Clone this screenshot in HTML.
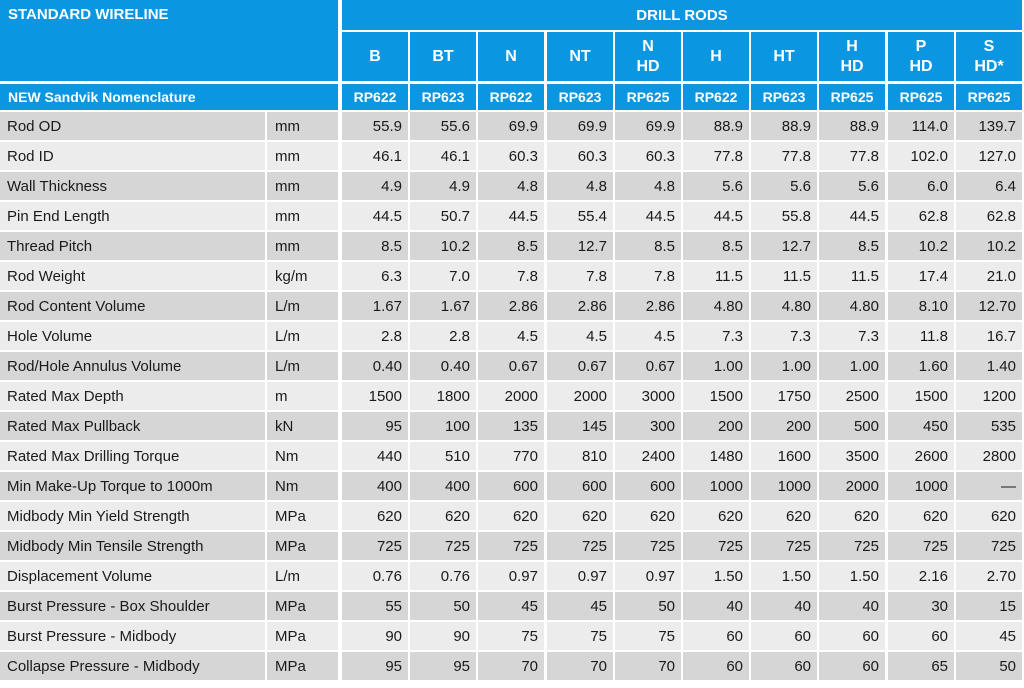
<!DOCTYPE html>
<html><head><meta charset="utf-8"><style>
body{margin:0;width:1024px;height:688px;background:#fff;overflow:hidden;font-family:"Liberation Sans",sans-serif;}
#t{position:relative;width:1024px;height:688px;}
.c{position:absolute;box-sizing:border-box;display:flex;align-items:center;font-size:15px;color:#1a1a1a;white-space:nowrap;}
.h{background:#0a96e0;color:#fff;font-weight:bold;justify-content:center;text-align:center;}
.n{justify-content:flex-end;padding-right:6px;}
</style></head><body>
<div id="t"></div>
<script>
const cols=["B","BT","N","NT","N<br>HD","H","HT","H<br>HD","P<br>HD","S<br>HD*"];
const codes=["RP622","RP623","RP622","RP623","RP625","RP622","RP623","RP625","RP625","RP625"];
const labels=["Rod OD","Rod ID","Wall Thickness","Pin End Length","Thread Pitch","Rod Weight","Rod Content Volume","Hole Volume","Rod/Hole Annulus Volume","Rated Max Depth","Rated Max Pullback","Rated Max Drilling Torque","Min Make-Up Torque to 1000m","Midbody Min Yield Strength","Midbody Min Tensile Strength","Displacement Volume","Burst Pressure - Box Shoulder","Burst Pressure - Midbody","Collapse Pressure - Midbody"];
const units=["mm","mm","mm","mm","mm","kg/m","L/m","L/m","L/m","m","kN","Nm","Nm","MPa","MPa","L/m","MPa","MPa","MPa"];
const values=[
["55.9","55.6","69.9","69.9","69.9","88.9","88.9","88.9","114.0","139.7"],
["46.1","46.1","60.3","60.3","60.3","77.8","77.8","77.8","102.0","127.0"],
["4.9","4.9","4.8","4.8","4.8","5.6","5.6","5.6","6.0","6.4"],
["44.5","50.7","44.5","55.4","44.5","44.5","55.8","44.5","62.8","62.8"],
["8.5","10.2","8.5","12.7","8.5","8.5","12.7","8.5","10.2","10.2"],
["6.3","7.0","7.8","7.8","7.8","11.5","11.5","11.5","17.4","21.0"],
["1.67","1.67","2.86","2.86","2.86","4.80","4.80","4.80","8.10","12.70"],
["2.8","2.8","4.5","4.5","4.5","7.3","7.3","7.3","11.8","16.7"],
["0.40","0.40","0.67","0.67","0.67","1.00","1.00","1.00","1.60","1.40"],
["1500","1800","2000","2000","3000","1500","1750","2500","1500","1200"],
["95","100","135","145","300","200","200","500","450","535"],
["440","510","770","810","2400","1480","1600","3500","2600","2800"],
["400","400","600","600","600","1000","1000","2000","1000","—"],
["620","620","620","620","620","620","620","620","620","620"],
["725","725","725","725","725","725","725","725","725","725"],
["0.76","0.76","0.97","0.97","0.97","1.50","1.50","1.50","2.16","2.70"],
["55","50","45","45","50","40","40","40","30","15"],
["90","90","75","75","75","60","60","60","60","45"],
["95","95","70","70","70","60","60","60","65","50"]];
const T=document.getElementById('t');
function cell(x,y,w,h,cls,html,bg){const d=document.createElement('div');d.className='c '+cls;d.style.cssText+=`left:${x}px;top:${y}px;width:${w}px;height:${h}px;`+(bg?`background:${bg};`:'');d.innerHTML=html;T.appendChild(d);return d;}
const X0=342,CW=68.2;
let d=cell(0,0,338,81,'h','STANDARD WIRELINE');d.style.alignItems='flex-start';d.style.justifyContent='flex-start';d.style.padding='6px 8px';

d=cell(X0,0,680,30,'h','DRILL RODS');

d=cell(0,84,338,26,'h','NEW Sandvik Nomenclature');d.style.justifyContent='flex-start';d.style.paddingLeft='8px';d.style.fontSize='14px';

cols.forEach((c,i)=>{const x=Math.round(X0+i*CW);
 let e=cell(x,32,Math.round(CW)-2,49,'h',c);e.style.fontSize='16px';e.style.lineHeight='20px';
 
 e=cell(x,84,Math.round(CW)-2,26,'h',codes[i]);e.style.fontSize='14px';
 });
labels.forEach((l,r)=>{const y=112+r*30,bg=r%2?'#ececec':'#d6d6d6';
 let e=cell(0,y,265,28,'',l,bg);e.style.paddingLeft='7px';
 
 e=cell(267,y,71,28,'',units[r],bg);e.style.paddingLeft='8px';
 
 values[r].forEach((v,i)=>{const x=Math.round(X0+i*CW);
  const c=cell(x,y,Math.round(CW)-2,28,'n',v,bg);
  });});
</script></body></html>
